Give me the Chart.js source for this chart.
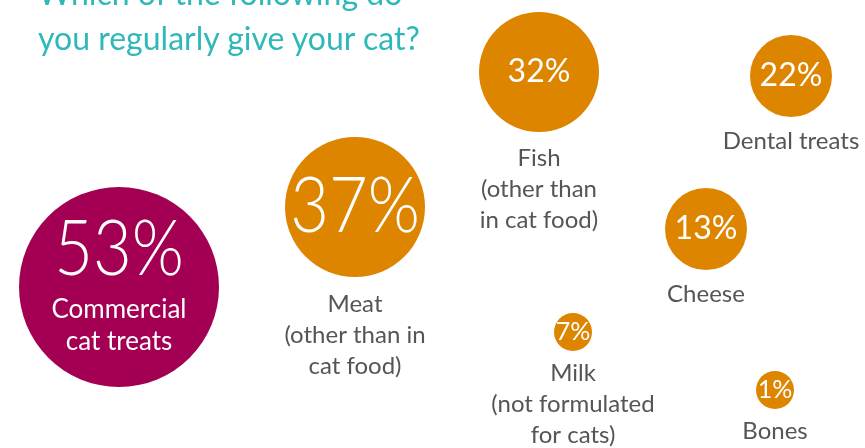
<!DOCTYPE html>
<html lang="en">
<head>
    <meta charset="UTF-8">
    <title>Which of the following do you regularly give your cat?</title>
    <script src="https://cdn.jsdelivr.net/npm/chart.js"></script>
    <style>
        html, body { margin: 0; padding: 0; background: #fff; }
        .wrap { position: relative; width: 865px; height: 448px; overflow: hidden; }
        .title {
            position: absolute; left: 38px; top: -30px; margin: 0;
            font-family: Lato, sans-serif; font-weight: 400; font-size: 32px;
            line-height: 45px; color: #2fb8b9; z-index: 2; white-space: nowrap;
        }
        .chart-box { position: absolute; }
    </style>
</head>
<body>
    <div class="wrap">
        <h1 class="title">Which of the following do<br>you regularly give your cat?</h1>
        <div class="chart-box" id="chartBox">
            <canvas id="treatChart" role="img" aria-label="Which of the following do you regularly give your cat?"></canvas>
        </div>
    </div>
    <script>
        // answers and share of owners (%)
        const categories = [
            ['Commercial', 'cat treats'],
            ['Meat', '(other than in', 'cat food)'],
            ['Fish', '(other than', 'in cat food)'],
            ['Dental treats'],
            ['Cheese'],
            ['Milk', '(not formulated', 'for cats)'],
            ['Bones']
        ];
        const shares = [53, 37, 32, 22, 13, 7, 1];

        // bubble layout, in the page's own units (0-865 across, 0-448 down)
        const layoutX = [119, 355, 539, 791, 706, 573, 775];
        const layoutY = [287, 207, 72, 76, 229, 332, 390];
        const bubbleSize = [100, 70, 60, 41, 41, 19, 19];

        const bubbleColors = shares.map((v, i) => i === 0 ? '#a30053' : '#de8500');

        // chart.js pads the chart area by the largest bubble radius,
        // so let the canvas spill out by that much on every side
        const pad = Math.max(...bubbleSize);
        const box = document.getElementById('chartBox');
        box.style.left = -pad + 'px';
        box.style.top = -pad + 'px';
        box.style.width = (865 + 2 * pad) + 'px';
        box.style.height = (448 + 2 * pad) + 'px';

        const bubbleText = {
            id: 'bubbleText',
            afterDatasetsDraw(chart) {
                const ctx = chart.ctx;
                const meta = chart.getDatasetMeta(0);
                ctx.save();
                ctx.textAlign = 'center';
                ctx.textBaseline = 'middle';
                meta.data.forEach((el, i) => {
                    const x = el.x, y = el.y;
                    const r = el.options.radius;
                    const inside = i === 0;

                    // percentage
                    ctx.fillStyle = '#fff';
                    const pct = shares[i] + '%';
                    if (r >= 70) {
                        // big thin numbers, a bit narrower than Lato
                        ctx.save();
                        ctx.translate(x, inside ? y - 37 : y);
                        ctx.scale(0.88, 1);
                        ctx.font = '300 76px Lato, sans-serif';
                        ctx.fillText(pct, 0, 0);
                        ctx.restore();
                    } else if (r >= 40) {
                        ctx.font = '400 32px Lato, sans-serif';
                        ctx.fillText(pct, x, y);
                    } else {
                        ctx.font = '400 25px Lato, sans-serif';
                        ctx.fillText(pct, x, y);
                    }

                    // category label
                    const lines = categories[i];
                    lines.forEach((line, k) => {
                        if (inside) {
                            ctx.font = '400 26px Lato, sans-serif';
                            ctx.fillStyle = '#fff';
                            ctx.fillText(line, x, y + 23 + k * 32);
                        } else {
                            ctx.font = '400 24px Lato, sans-serif';
                            ctx.fillStyle = '#555555';
                            ctx.fillText(line, x, y + r + 20 + r * 0.1 + k * 31);
                        }
                    });
                });
                ctx.restore();
            }
        };

        const ctx = document.getElementById('treatChart').getContext('2d');
        new Chart(ctx, {
            type: 'bubble',
            data: {
                datasets: [{
                    label: 'Share of cat owners',
                    data: shares.map((v, i) => ({ x: layoutX[i], y: layoutY[i], r: bubbleSize[i] })),
                    backgroundColor: bubbleColors,
                    borderWidth: 0,
                    hoverRadius: 0,
                    clip: false
                }]
            },
            options: {
                responsive: true,
                maintainAspectRatio: false,
                animation: false,
                layout: { padding: 0 },
                plugins: {
                    legend: { display: false },
                    tooltip: { enabled: false }
                },
                scales: {
                    x: { display: false, min: 0, max: 865 },
                    y: { display: false, min: 0, max: 448, reverse: true }
                }
            },
            plugins: [bubbleText]
        });
    </script>
</body>
</html>
